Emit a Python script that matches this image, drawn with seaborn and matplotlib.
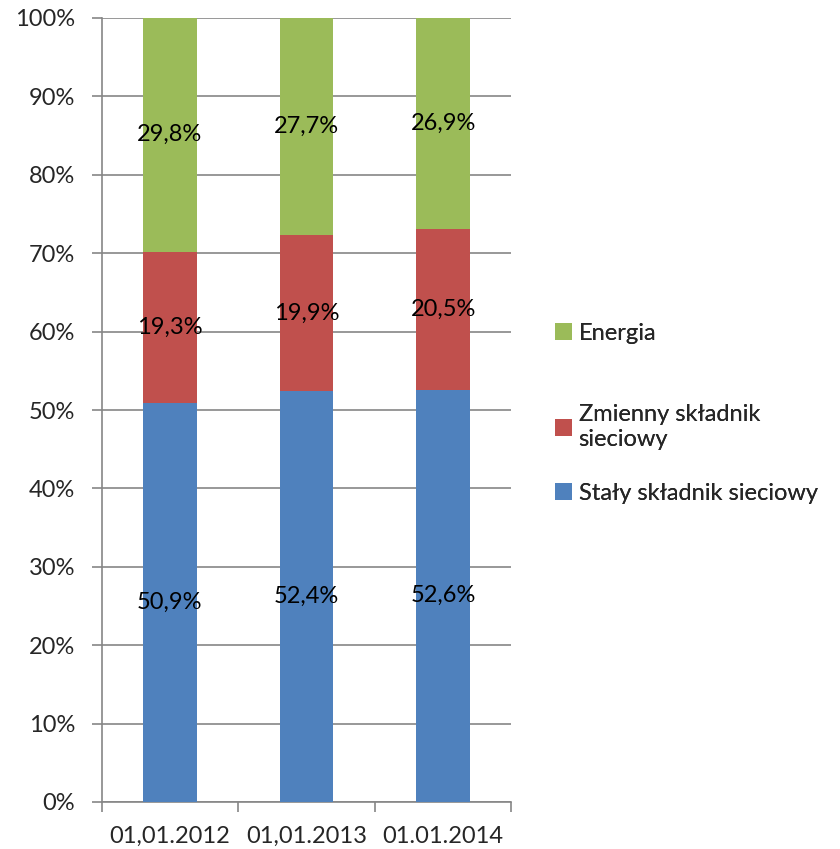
import numpy as np
import pandas as pd
import matplotlib
matplotlib.use("Agg")
import matplotlib.pyplot as plt
from matplotlib.patches import Patch
import seaborn as sns

# Data
dates = ["01,01.2012", "01,01.2013", "01.01.2014"]
staly = [50.9, 52.4, 52.6]
zmienny = [19.3, 19.9, 20.5]
energia = [29.8, 27.7, 26.9]
series_names = ["Stały składnik sieciowy", "Zmienny składnik\nsieciowy", "Energia"]
colors = ["#4F81BD", "#C0504D", "#9BBB59"]

sns.set_theme(style="white")
plt.rcParams["font.family"] = ["Lato", "DejaVu Sans"]
FS = 17

layers = np.array([staly, zmienny, energia])
tops = np.cumsum(layers, axis=0)
bottoms = tops - layers

fig = plt.figure(figsize=(8.40, 8.49), dpi=100)
ax = fig.add_axes([101.5 / 840, 1 - 802 / 849, 410 / 840, 784 / 849])

# Stacked bars: draw cumulative totals from the top layer down
for i in range(len(layers) - 1, -1, -1):
    df = pd.DataFrame({"date": dates, "value": tops[i]})
    sns.barplot(data=df, x="date", y="value", color=colors[i], width=0.394,
                saturation=1, ax=ax, zorder=3, edgecolor="none")

# Segment labels centred in each segment
for i in range(len(layers)):
    for j in range(len(dates)):
        ax.text(j, bottoms[i][j] + layers[i][j] / 2,
                f"{layers[i][j]:.1f}%".replace(".", ","),
                ha="center", va="center", fontsize=FS, color="black", zorder=5)

ax.set_xlim(-0.5, len(dates) - 0.5)
ax.set_ylim(0, 100)
ax.set_yticks(np.arange(0, 101, 10))
ax.set_yticklabels([f"{v}%" for v in range(0, 101, 10)], fontsize=FS)
ax.set_xlabel("")
ax.set_ylabel("")
ax.tick_params(axis="x", which="major", length=0, pad=17, labelsize=FS)
ax.set_xticks(np.arange(-0.5, len(dates), 1.0), minor=True)
ax.tick_params(axis="x", which="minor", length=7, width=1.2, color="#868686", bottom=True, direction="out")
ax.tick_params(axis="y", length=7, width=1.2, color="#868686", pad=12, left=True, direction="out")
ax.yaxis.grid(True, color="#868686", linewidth=1.2, zorder=0)
ax.set_axisbelow(True)
for s in ["top", "right"]:
    ax.spines[s].set_visible(False)
for s in ["left", "bottom"]:
    ax.spines[s].set_color("#868686")
    ax.spines[s].set_linewidth(1.2)

# Legend entries
legend_y = [333, 427, 493]
for name, col, y in zip(["Energia", series_names[1], series_names[0]],
                        [colors[2], colors[1], colors[0]], legend_y):
    leg = fig.legend(handles=[Patch(facecolor=col, edgecolor="none")], labels=[name],
                     loc="center left", bbox_to_anchor=(555 / 840, 1 - y / 849),
                     frameon=False, fontsize=FS, handlelength=0.7, handleheight=0.7,
                     handletextpad=0.3, borderaxespad=0, borderpad=0)
    fig.add_artist(leg)

fig.savefig("out.png", dpi=100)
